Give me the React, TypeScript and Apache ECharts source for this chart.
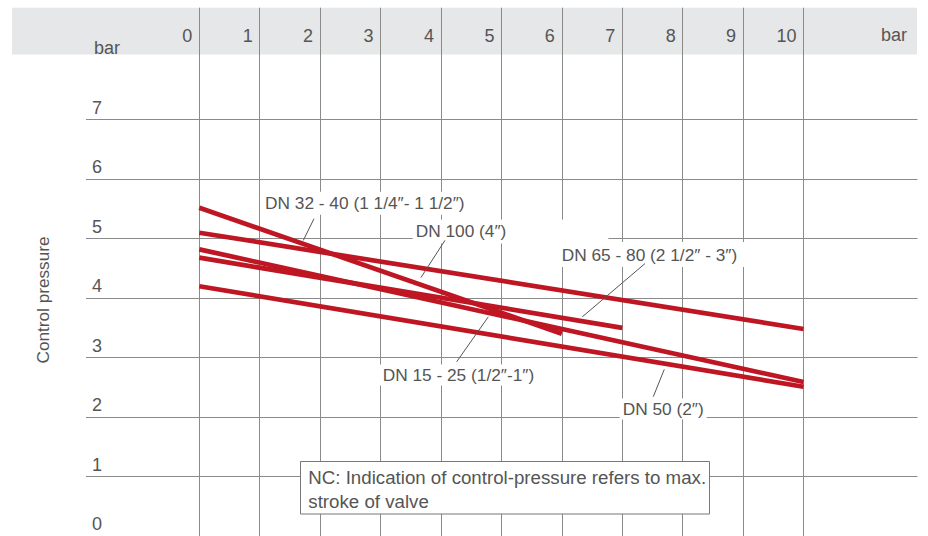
import { useEffect, useRef } from "react";
import * as echarts from "echarts";

// ---- data ----
const xTicks = [0, 1, 2, 3, 4, 5, 6, 7, 8, 9, 10];
const yTicks = [0, 1, 2, 3, 4, 5, 6, 7];
const seriesNames = [
  "DN 15 - 25 (1/2″-1″)",
  "DN 32 - 40 (1 1/4″- 1 1/2″)",
  "DN 50 (2″)",
  "DN 65 - 80 (2 1/2″ - 3″)",
  "DN 100 (4″)",
];
const dn15to25 = [[0, 4.82], [10, 2.59]];
const dn32to40 = [[0, 5.52], [6, 3.4]];
const dn50 = [[0, 4.2], [10, 2.51]];
const dn65to80 = [[0, 4.68], [7, 3.5]];
const dn100 = [[0, 5.1], [10, 3.48]];
const seriesData = [dn15to25, dn32to40, dn50, dn65to80, dn100];
const unitLabel = "bar";
const yAxisTitle = "Control pressure";
const noteText = "NC: Indication of control-pressure refers to max.\nstroke of valve";

// ---- annotation layout (data coordinates) ----
const labelAnchor = [
  [3.035, 2.706],
  [1.088, 5.595],
  [7.007, 2.136],
  [5.998, 4.732],
  [3.582, 5.122],
];
const leaderFrom = [
  [4.26, 2.93],
  [1.898, 5.335],
  [7.514, 2.342],
  [7.377, 4.581],
  [4.067, 4.972],
];
const leaderTo = [
  [4.783, 3.685],
  [1.721, 4.97],
  [7.696, 2.802],
  [6.339, 3.685],
  [3.668, 4.345],
];
const labelPadding = [
  [2, 3, 2, 3],
  [3, 6, 3, 4],
  [2, 3, 2, 3],
  [4, 8, 4, 3],
  [4, 102, 3, 3],
];

const FONT = "Liberation Sans, Arial, Helvetica, sans-serif";
const TEXT = "#555555";
const GRIDC = "#8a8a8a";
const RED = "#be1622";

export default function App() {
  const ref = useRef<HTMLDivElement>(null);
  useEffect(() => {
    if (!ref.current) return;
    const chart = echarts.init(ref.current, undefined, { renderer: "svg" });
    const x0 = 199.3;
    const x10 = 803.5;
    const yTop = 119.7;
    const yBottom = 536.3;
    chart.setOption({
      animation: false,
      grid: [
        { left: x0, top: yTop, width: x10 - x0, height: yBottom - yTop },
        { left: 86, top: yTop, width: 917.5 - 86, height: yBottom - yTop },
        { left: x0, top: 7.7, width: x10 - x0, height: 536 - 7.7 },
      ],
      xAxis: [
        { gridIndex: 0, type: "value", min: 0, max: 10, show: false },
        { gridIndex: 1, type: "value", min: 0, max: 1, show: false },
        {
          gridIndex: 2,
          type: "value",
          position: "top",
          min: xTicks[0],
          max: xTicks[xTicks.length - 1],
          interval: 1,
          axisLine: { show: false },
          axisTick: { show: false },
          splitLine: { show: true, lineStyle: { color: GRIDC, width: 1 } },
          axisLabel: {
            inside: true,
            margin: 28,
            align: "right",
            verticalAlign: "middle",
            padding: [0, 7, 0, 0],
            fontSize: 18,
            fontFamily: FONT,
            color: TEXT,
          },
        },
      ],
      yAxis: [
        { gridIndex: 0, type: "value", min: 0, max: 7, show: false },
        {
          gridIndex: 1,
          type: "value",
          min: yTicks[0],
          max: yTicks[yTicks.length - 1],
          interval: 1,
          axisLine: { show: false },
          axisTick: { show: false },
          splitLine: { show: true, lineStyle: { color: GRIDC, width: 1 } },
          axisLabel: {
            inside: true,
            margin: 6,
            align: "left",
            verticalAlign: "bottom",
            lineHeight: 18,
            padding: [0, 0, 3, 0],
            fontSize: 18,
            fontFamily: FONT,
            color: TEXT,
          },
        },
        { gridIndex: 2, type: "value", min: 0, max: 1, show: false },
      ],
      series: seriesData.map((d, i) => ({
        name: seriesNames[i],
        type: "line",
        xAxisIndex: 0,
        yAxisIndex: 0,
        data: d,
        symbol: "none",
        z: 3,
        lineStyle: { color: RED, width: 4.7, cap: "butt" },
      })),
    });

    const toPx = (p: number[]) => chart.convertToPixel({ gridIndex: 0 }, p) as number[];
    const graphics: any[] = [
      {
        type: "rect",
        z: -1,
        silent: true,
        shape: { x: 12, y: 7.7, width: 905, height: 46.8 },
        style: { fill: "#e6e7e8" },
      },
      {
        type: "text",
        z: 5,
        style: {
          text: unitLabel,
          x: 94,
          y: 47.5,
          align: "left",
          verticalAlign: "middle",
          font: `18px ${FONT}`,
          fill: TEXT,
        },
      },
      {
        type: "text",
        z: 5,
        style: {
          text: unitLabel,
          x: 907,
          y: 35,
          align: "right",
          verticalAlign: "middle",
          font: `18px ${FONT}`,
          fill: TEXT,
        },
      },
      {
        type: "text",
        z: 5,
        x: 42.5,
        y: 300,
        rotation: Math.PI / 2,
        style: {
          text: yAxisTitle,
          x: 0,
          y: 0,
          align: "center",
          verticalAlign: "middle",
          font: `17.2px ${FONT}`,
          fill: TEXT,
        },
      },
      {
        type: "rect",
        z: 10,
        shape: { x: 300.5, y: 461.5, width: 409, height: 52.5 },
        style: { fill: "#ffffff", stroke: "#777777", lineWidth: 1 },
      },
      {
        type: "text",
        z: 11,
        style: {
          text: noteText,
          x: 308.3,
          y: 465.5,
          align: "left",
          verticalAlign: "top",
          lineHeight: 23.7,
          font: `18.7px ${FONT}`,
          fill: TEXT,
        },
      },
    ];
    seriesNames.forEach((name, i) => {
      const a = toPx(labelAnchor[i]);
      const f = toPx(leaderFrom[i]);
      const t = toPx(leaderTo[i]);
      graphics.push({
        type: "text",
        z: 8,
        style: {
          text: name,
          x: a[0] - labelPadding[i][3],
          y: a[1],
          align: "left",
          verticalAlign: "middle",
          font: `17.3px ${FONT}`,
          fill: TEXT,
          backgroundColor: "#ffffff",
          padding: labelPadding[i],
        },
      });
      graphics.push({
        type: "line",
        z: 9,
        shape: { x1: f[0], y1: f[1], x2: t[0], y2: t[1] },
        style: { stroke: "#555555", lineWidth: 1 },
      });
    });
    chart.setOption({ graphic: graphics });
    return () => chart.dispose();
  }, []);
  return (
    <div
      ref={ref}
      style={{ position: "fixed", left: 0, top: 0, width: 928, height: 536, background: "#ffffff" }}
    />
  );
}
